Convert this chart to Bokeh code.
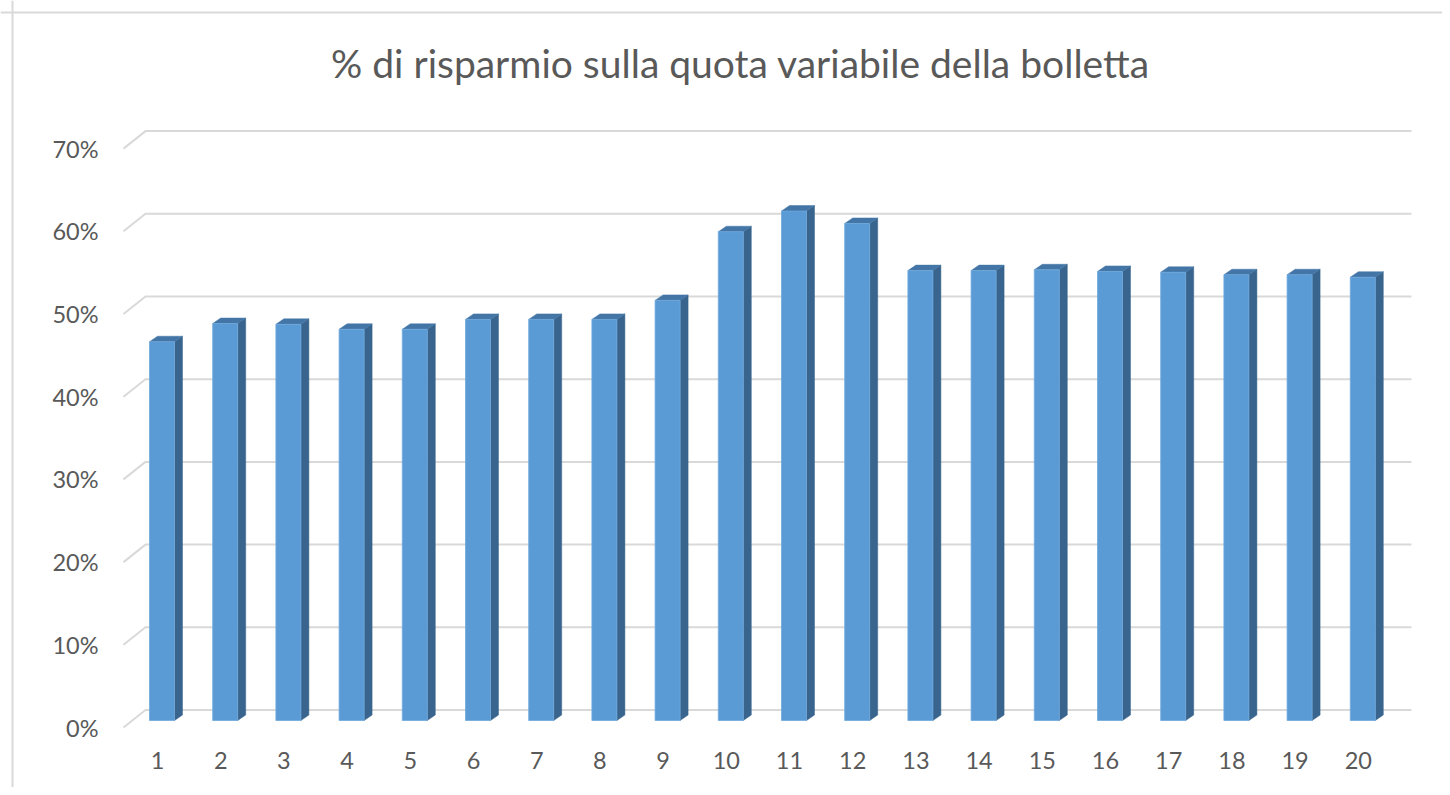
from bokeh.plotting import figure
from bokeh.models import Range1d, ColumnDataSource, Span
from bokeh.core.properties import value
from bokeh.embed import file_html
from bokeh.resources import INLINE

# ---------------- data ----------------
title_text = "% di risparmio sulla quota variabile della bolletta"
categories = [str(i) for i in range(1, 21)]
savings_pct = [45.8, 48.0, 47.9, 47.3, 47.3, 48.5, 48.5, 48.5, 50.8, 59.1,
               61.6, 60.1, 54.4, 54.4, 54.5, 54.3, 54.2, 53.9, 53.9, 53.6]
y_ticks = [0, 10, 20, 30, 40, 50, 60, 70]
y_tick_labels = ["0%", "10%", "20%", "30%", "40%", "50%", "60%", "70%"]

# ---------------- layout (pixels) ----------------
W, H = 1442, 787
PX_X = 63.2          # px per category
PX_Y = 8.27          # px per percent
ORIGIN_X = 157       # figure x of category 1 (front plane)
ORIGIN_Y = 727       # figure y of 0% (front plane)

def dx(px):
    return px / PX_X

def dy(px):
    return px / PX_Y

def xdata(fig_px):
    return 1 + (fig_px - ORIGIN_X) / PX_X

def ydata(fig_py):
    return (ORIGIN_Y - fig_py) / PX_Y

FONT = "Lato"
TXT = "#595959"
GRID = "#d9d9d9"
FRONT = "#5b9bd5"
SIDE = "#38648d"
TOP = "#4376a7"

p = figure(width=W, height=H, output_backend="svg", toolbar_location=None,
           x_range=Range1d(xdata(0), xdata(W)), y_range=Range1d(ydata(H), ydata(0)),
           min_border=0, min_border_left=0, min_border_right=0,
           min_border_top=0, min_border_bottom=0)
p.xaxis.visible = False
p.yaxis.visible = False
p.grid.visible = False
p.outline_line_color = None
p.background_fill_color = "white"
p.border_fill_color = "white"

# chart border (left and top visible)
p.add_layout(Span(location=xdata(12), dimension="height", line_color=GRID, line_width=2))
p.add_layout(Span(location=ydata(12), dimension="width", line_color=GRID, line_width=2))

# gridlines: front-left diagonal then back wall horizontal
gx0 = xdata(123)
gx1 = gx0 + dx(22)
gx2 = xdata(1411)
grid_xs = [[gx0, gx1, gx2] for v in y_ticks]
grid_ys = [[v, v + dy(17.5), v + dy(17.5)] for v in y_ticks]
p.multi_line(grid_xs, grid_ys, line_color=GRID, line_width=2)

# bars (3D look)
base = dy(7)
off_l = dx(-8)
bw = dx(25)
ddx, ddy = dx(8), dy(5.5)
xs_pos = list(range(1, len(categories) + 1))
left = [x + off_l for x in xs_pos]
right = [l + bw for l in left]
bottom = [base] * len(xs_pos)
top = [v + base for v in savings_pct]

side_xs = [[r, r + ddx, r + ddx, r] for r in right]
side_ys = [[b, b + ddy, t + ddy, t] for b, t in zip(bottom, top)]
top_xs = [[l, r, r + ddx, l + ddx] for l, r in zip(left, right)]
top_ys = [[t, t, t + ddy, t + ddy] for t in top]

p.patches(side_xs, side_ys, fill_color=SIDE, line_color=SIDE, line_width=0.5)
p.patches(top_xs, top_ys, fill_color=TOP, line_color=TOP, line_width=0.5)
p.quad(left=left, right=right, bottom=bottom, top=top,
       fill_color=FRONT, line_color="#6fa8dc", line_width=0.8)

# y tick labels
ysrc = ColumnDataSource(dict(x=[xdata(98)] * len(y_ticks), y=y_ticks, t=y_tick_labels))
p.text("x", "y", text="t", source=ysrc, text_align="right", text_baseline="middle",
       text_font=value(FONT), text_font_size="23.5px", text_color=TXT)

# x tick labels
xsrc = ColumnDataSource(dict(x=xs_pos, y=[ydata(760)] * len(xs_pos), t=categories))
p.text("x", "y", text="t", source=xsrc, text_align="center", text_baseline="middle",
       text_font=value(FONT), text_font_size="23.5px", text_color=TXT)

# title
p.text(x=[xdata(740)], y=[ydata(62)], text=[title_text], text_align="center",
       text_baseline="middle", text_font=value(FONT), text_font_size="39px",
       text_color=TXT)

open("out.html", "w").write(file_html(p, INLINE))
